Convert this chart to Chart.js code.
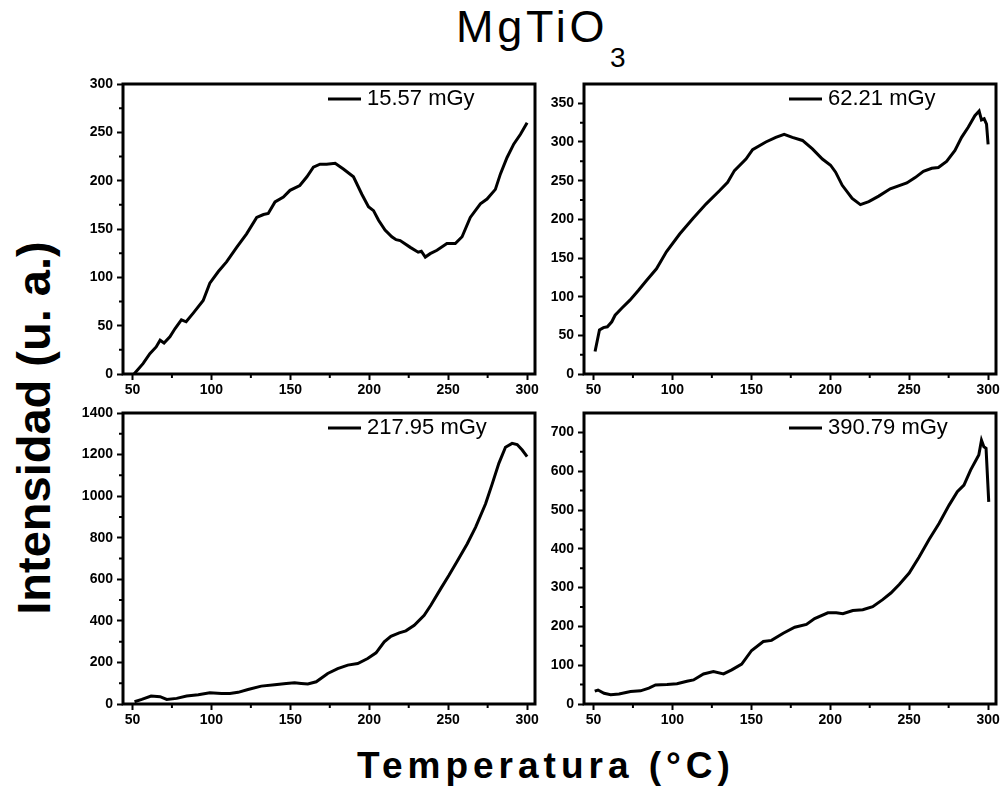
<!DOCTYPE html>
<html>
<head>
<meta charset="utf-8">
<script src="https://cdn.jsdelivr.net/npm/chart.js@4.4.0/dist/chart.umd.min.js"></script>
<style>
  body { margin: 0; background: #fff; }
  #wrap { position: relative; width: 1004px; height: 795px; overflow: hidden; font-family: "Liberation Sans", Arial, sans-serif; color: #000; }
  #wrap canvas { position: absolute; }
  .title { position: absolute; left: 456px; top: 1px; font-size: 45px; letter-spacing: 3.8px; line-height: normal; white-space: nowrap; }
  .sub { position: absolute; left: 610px; top: 42px; font-size: 28px; line-height: normal; }
  .ylab { position: absolute; left: 34px; top: 428px; transform: translate(-50%, -50%) rotate(-90deg); font-weight: bold; font-size: 47px; line-height: 54px; white-space: nowrap; }
  .xlab { position: absolute; left: 546px; top: 744px; transform: translateX(-50%); font-weight: bold; font-size: 37px; letter-spacing: 5px; line-height: 43px; white-space: nowrap; }
</style>
</head>
<body>
<div id="wrap">
  <div class="title">MgTiO</div><div class="sub">3</div>
  <div class="ylab">Intensidad (u. a.)</div>
  <div class="xlab">Temperatura (°C)</div>
  <canvas id="p1"></canvas>
  <canvas id="p2"></canvas>
  <canvas id="p3"></canvas>
  <canvas id="p4"></canvas>
</div>
<script>
// temperatures (°C) and TL intensity (u. a.)
const temps1 = [51, 56.8, 61, 65, 67.5, 70, 73.7, 77, 81, 84, 88.5, 94.8, 99, 104.4, 109.6, 116, 122.3, 128.7, 133, 136, 140.3, 145.6, 149.8, 156, 160.5, 164.6, 168.8, 173, 178.4, 183.6, 190, 195.3, 199.5, 202.7, 205.9, 210, 214.3, 217, 219.6, 226, 231, 233, 235.5, 238.6, 242.9, 249.2, 254.5, 258.8, 264, 270.4, 274.6, 279.9, 283.1, 287.3, 291.6, 295.8, 300];
const intens1 = [0, 11, 21, 28, 35, 32, 38.5, 47, 56, 54, 63, 76, 94, 106, 116, 131, 145, 162, 165, 166, 178, 183, 190, 195, 204, 214, 217, 217, 218, 212, 204, 186, 173, 169, 159, 149, 142, 139, 138, 131, 126, 127, 121, 124.5, 128, 135, 135, 142, 162, 176, 181, 191, 207, 224, 238, 248, 260];

const temps2 = [51, 53.8, 56.3, 58.8, 61.6, 63.7, 67.9, 73.1, 78.4, 83.6, 89.9, 96.2, 104.6, 113, 121.4, 129.8, 135, 139.3, 146.6, 150.8, 159.2, 165.5, 170.8, 176, 182.4, 188.7, 195, 200.2, 203.4, 207.6, 213.9, 219.1, 224.4, 230.7, 238, 248.5, 253.8, 259, 264.3, 268.5, 273.7, 279, 283.2, 287.4, 291.6, 294.3, 295.8, 297.5, 299, 300];
const intens2 = [29, 57, 60, 61, 67.5, 76, 85, 95.5, 108, 121, 136, 158, 181, 201, 220, 237, 248, 263, 278, 290, 300, 306, 310, 306, 302, 291, 278, 270, 261, 244, 227, 219, 223, 230, 239.5, 247, 254, 262, 266, 267, 275, 289, 306, 319, 334, 340, 328.5, 330, 323, 297];

const temps3 = [51.3, 55.9, 61.8, 67.5, 71.7, 78, 84.3, 91.7, 99, 106.4, 111.7, 116.9, 123.2, 131.6, 140.1, 147.4, 152.7, 156.9, 161.1, 166.4, 173.7, 180, 186.4, 192.7, 199, 204.3, 209.5, 213.7, 219, 223.2, 228.5, 234.8, 239, 245.3, 250.5, 255.8, 262.1, 267.4, 273.7, 277.9, 282.1, 286.3, 290.5, 293.7, 296.9, 300];
const intens3 = [11, 22, 38, 35, 22, 27, 38, 45, 54, 51, 51, 56, 70, 86, 93, 99, 102, 99, 96, 107, 147, 170, 187, 195, 219, 246, 299, 326, 342, 352, 379, 427, 475, 555, 619, 688, 771, 851, 963, 1059, 1158, 1235, 1254, 1248, 1222, 1190];

const temps4 = [50.8, 52.9, 56.7, 60.9, 66.2, 73.5, 79.8, 85.1, 89.3, 96.6, 102.9, 109.2, 113.4, 119.7, 126, 132.4, 137.6, 143.9, 150.2, 157.6, 162.8, 170.2, 177.5, 184.9, 190.1, 198.5, 203.8, 208, 214.3, 220.6, 226.9, 233.2, 238.4, 243.7, 250, 256.3, 262.6, 268.9, 275.2, 280.5, 284.7, 288.9, 294.1, 295.8, 297.3, 298.7, 300.4];
const intens4 = [33, 36, 27.5, 24, 26, 32, 34, 41, 49, 50, 52, 58.5, 62, 77.5, 83.5, 77.5, 88, 103, 138, 161, 164, 182.5, 198, 205, 220, 235, 235, 232.5, 241, 243, 251, 269, 286, 308, 337.5, 379, 424, 465, 512, 547, 564, 603, 642, 680, 663, 659, 521];

const doses = ["15.57 mGy", "62.21 mGy", "217.95 mGy", "390.79 mGy"];

// tick labels
const xTicks = [50, 100, 150, 200, 250, 300];
const xMinor = [75, 125, 175, 225, 275];
const yTicks1 = [0, 50, 100, 150, 200, 250, 300];
const yMinor1 = [25, 75, 125, 175, 225, 275];
const yTicks2 = [0, 50, 100, 150, 200, 250, 300, 350];
const yMinor2 = [25, 75, 125, 175, 225, 275, 325];
const yTicks3 = [0, 200, 400, 600, 800, 1000, 1200, 1400];
const yMinor3 = [100, 300, 500, 700, 900, 1100, 1300];
const yTicks4 = [0, 100, 200, 300, 400, 500, 600, 700];
const yMinor4 = [50, 150, 250, 350, 450, 550, 650];

const FONT = "Liberation Sans";

// frame around plot area + minor ticks + legend inside the box
const panelDeco = {
    id: "panelDeco",
    afterDraw(chart, args, opts) {
        const ctx = chart.ctx;
        const a = chart.chartArea;
        ctx.save();
        ctx.strokeStyle = "#000";
        ctx.lineWidth = 3;
        ctx.strokeRect(a.left, a.top, a.right - a.left, a.bottom - a.top);

        // minor ticks
        ctx.lineWidth = 2;
        ctx.beginPath();
        opts.xMinor.forEach(v => {
            const px = chart.scales.x.getPixelForValue(v);
            ctx.moveTo(px, a.bottom);
            ctx.lineTo(px, a.bottom + 4);
        });
        opts.yMinor.forEach(v => {
            const py = chart.scales.y.getPixelForValue(v);
            ctx.moveTo(a.left, py);
            ctx.lineTo(a.left - 4, py);
        });
        ctx.stroke();

        // legend
        const ds = chart.data.datasets[0];
        const ly = a.top + 15;
        ctx.strokeStyle = ds.borderColor;
        ctx.lineWidth = 3;
        ctx.beginPath();
        ctx.moveTo(a.right - 207, ly);
        ctx.lineTo(a.right - 174, ly);
        ctx.stroke();
        ctx.fillStyle = "#000";
        ctx.font = "22px '" + FONT + "'";
        ctx.textBaseline = "alphabetic";
        ctx.textAlign = "left";
        ctx.fillText(ds.label, a.right - 168, a.top + 20.5);
        ctx.restore();
    }
};

const makePanel = (id, temps, values, label, yMax, yTicks, yMinor, area) => {
    const [left, top, right, bottom] = area;
    const yAxisW = 61, xAxisH = 25, padTop = 14;
    const padRight = Math.min(15, 1004 - right);
    const canvas = document.getElementById(id);
    const cLeft = left - yAxisW, cTop = top - padTop;
    canvas.style.left = cLeft + "px";
    canvas.style.top = cTop + "px";
    canvas.width = right + padRight - cLeft;
    canvas.height = bottom + xAxisH - cTop;

    const tickFont = { family: FONT, size: 14, weight: "bold" };

    return new Chart(canvas.getContext("2d"), {
        type: "line",
        data: {
            datasets: [{
                label: label,
                data: temps.map((t, i) => ({ x: t, y: values[i] })),
                borderColor: "#000",
                borderWidth: 3,
                pointRadius: 0,
                fill: false,
                tension: 0,
            }],
        },
        plugins: [panelDeco],
        options: {
            responsive: false,
            animation: false,
            layout: { padding: { left: 0, right: padRight, top: padTop, bottom: 0 } },
            plugins: {
                legend: { display: false },
                tooltip: { enabled: false },
                panelDeco: { xMinor: xMinor, yMinor: yMinor },
            },
            scales: {
                x: {
                    type: "linear",
                    min: 44,
                    max: 305,
                    afterBuildTicks: s => { s.ticks = xTicks.map(v => ({ value: v })); },
                    afterFit: s => { s.height = xAxisH; },
                    grid: { drawOnChartArea: false, drawTicks: true, tickLength: 6, tickWidth: 2, tickColor: "#000" },
                    border: { display: false },
                    ticks: { color: "#000", font: tickFont, padding: 2, maxRotation: 0, autoSkip: false, callback: v => String(v) },
                },
                y: {
                    type: "linear",
                    min: 0,
                    max: yMax,
                    afterBuildTicks: s => { s.ticks = yTicks.map(v => ({ value: v })); },
                    afterFit: s => { s.width = yAxisW; },
                    grid: { drawOnChartArea: false, drawTicks: true, tickLength: 6, tickWidth: 2, tickColor: "#000" },
                    border: { display: false },
                    ticks: { color: "#000", font: tickFont, padding: 4, autoSkip: false, callback: v => String(v) },
                },
            },
        },
    });
};

makePanel("p1", temps1, intens1, doses[0], 300, yTicks1, yMinor1, [123, 84, 535, 374]);
makePanel("p2", temps2, intens2, doses[1], 375, yTicks2, yMinor2, [584, 84, 996, 374]);
makePanel("p3", temps3, intens3, doses[2], 1400, yTicks3, yMinor3, [123, 413, 535, 704]);
makePanel("p4", temps4, intens4, doses[3], 750, yTicks4, yMinor4, [584, 413, 996, 704]);
</script>
</body>
</html>
